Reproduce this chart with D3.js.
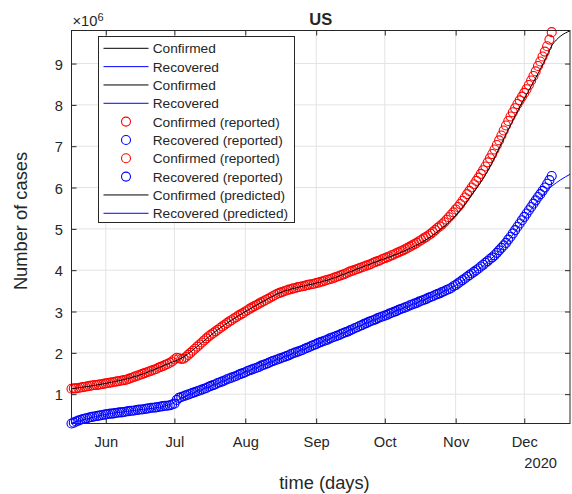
<!DOCTYPE html>
<html>
<head>
<meta charset="utf-8">
<script src="https://cdn.jsdelivr.net/npm/d3@7"></script>
<style>
  body { margin: 0; background: #fff; }
  svg { display: block; }
  text { font-family: "Liberation Sans", Arial, Helvetica, sans-serif; fill: #262626; }
</style>
</head>
<body>
<svg id="chart" width="572" height="494"></svg>
<script>
// ---- data (values in millions of cases) ----
const startDate = "2020-05-17";          // first reported day
const endDate = "2020-12-21";            // end of prediction window

// daily reported series, one value per day from startDate
const confirmedReported = [
  1.13,1.14,1.14,1.15,1.16,1.17,1.18,1.19,1.20,1.21,
  1.22,1.22,1.23,1.24,1.25,1.26,1.27,1.28,1.29,1.30,
  1.31,1.32,1.33,1.34,1.35,1.37,1.39,1.41,1.43,1.45,
  1.47,1.49,1.51,1.53,1.55,1.57,1.59,1.61,1.64,1.66,
  1.68,1.71,1.73,1.76,1.79,1.84,1.88,1.87,1.85,1.86,
  1.90,1.95,2.00,2.05,2.10,2.15,2.20,2.25,2.30,2.35,
  2.40,2.44,2.48,2.52,2.56,2.60,2.64,2.68,2.72,2.76,
  2.79,2.83,2.86,2.90,2.93,2.96,3.00,3.03,3.07,3.10,
  3.13,3.16,3.19,3.22,3.25,3.28,3.31,3.34,3.37,3.40,
  3.43,3.45,3.47,3.49,3.51,3.53,3.54,3.56,3.57,3.59,
  3.60,3.61,3.62,3.64,3.65,3.66,3.67,3.69,3.70,3.72,
  3.73,3.75,3.77,3.78,3.80,3.82,3.84,3.86,3.88,3.90,
  3.92,3.95,3.97,3.99,4.01,4.03,4.05,4.07,4.09,4.11,
  4.13,4.15,4.18,4.20,4.22,4.24,4.27,4.29,4.31,4.33,
  4.36,4.38,4.41,4.43,4.46,4.48,4.51,4.54,4.57,4.60,
  4.63,4.66,4.70,4.73,4.77,4.80,4.84,4.88,4.92,4.97,
  5.02,5.06,5.11,5.16,5.22,5.28,5.34,5.40,5.47,5.53,
  5.60,5.68,5.76,5.84,5.92,6.00,6.08,6.16,6.24,6.33,
  6.42,6.51,6.61,6.71,6.81,6.92,7.03,7.14,7.26,7.38,
  7.50,7.61,7.72,7.82,7.92,8.02,8.11,8.20,8.29,8.38,
  8.48,8.59,8.70,8.81,8.94,9.05,9.17,9.29,9.42,9.58,
  9.76
];

const recoveredReported = [
  0.29,0.31,0.34,0.36,0.38,0.40,0.41,0.42,0.44,0.45,
  0.46,0.47,0.48,0.49,0.50,0.51,0.52,0.53,0.53,0.54,
  0.55,0.56,0.56,0.57,0.58,0.59,0.60,0.60,0.61,0.62,
  0.63,0.63,0.64,0.65,0.66,0.67,0.67,0.68,0.69,0.70,
  0.71,0.72,0.72,0.73,0.75,0.77,0.86,0.91,0.93,0.95,
  0.97,0.99,1.01,1.03,1.05,1.07,1.09,1.11,1.13,1.15,
  1.18,1.20,1.22,1.24,1.27,1.29,1.31,1.33,1.36,1.38,
  1.40,1.42,1.44,1.47,1.49,1.51,1.53,1.56,1.58,1.60,
  1.62,1.64,1.66,1.69,1.71,1.73,1.75,1.78,1.80,1.82,
  1.84,1.86,1.88,1.90,1.92,1.94,1.97,1.99,2.01,2.03,
  2.05,2.07,2.10,2.12,2.14,2.17,2.19,2.21,2.24,2.26,
  2.28,2.30,2.32,2.35,2.37,2.39,2.41,2.43,2.46,2.48,
  2.50,2.52,2.55,2.57,2.60,2.62,2.65,2.67,2.70,2.72,
  2.75,2.77,2.79,2.81,2.84,2.86,2.88,2.90,2.92,2.95,
  2.97,2.99,3.01,3.04,3.06,3.08,3.10,3.12,3.15,3.17,
  3.19,3.21,3.24,3.26,3.28,3.30,3.33,3.35,3.37,3.40,
  3.42,3.44,3.47,3.49,3.52,3.54,3.57,3.61,3.64,3.68,
  3.72,3.76,3.80,3.84,3.88,3.92,3.96,4.00,4.04,4.09,
  4.13,4.18,4.22,4.27,4.31,4.36,4.42,4.48,4.54,4.60,
  4.66,4.74,4.81,4.89,4.97,5.05,5.13,5.21,5.29,5.37,
  5.45,5.53,5.61,5.69,5.77,5.84,5.92,6.00,6.09,6.18,
  6.28
];

// model curves: day offset from startDate and value
const confirmedFitDays = [0,14,28,42,49,56,63,70,77,84,91,98,105,112,119,126,133,140,147,154,161,168,175,182,189,196,203,207,210,212,214,216,218];
const confirmedFit     = [1.13,1.25,1.43,1.73,1.90,2.20,2.52,2.79,3.03,3.25,3.45,3.57,3.66,3.76,3.90,4.05,4.20,4.34,4.50,4.70,4.97,5.32,5.82,6.40,7.18,7.95,8.65,9.08,9.43,9.57,9.67,9.74,9.79];
const recoveredFitDays = [0,14,28,42,49,56,63,70,84,98,112,126,140,154,161,168,175,182,189,196,203,207,210,214,218];
const recoveredFit     = [0.30,0.50,0.61,0.73,0.93,1.09,1.24,1.40,1.71,2.01,2.32,2.65,2.97,3.28,3.44,3.63,3.90,4.20,4.58,5.08,5.62,5.88,6.03,6.19,6.32];

const monthTicks  = ["2020-06-01","2020-07-01","2020-08-01","2020-09-01","2020-10-01","2020-11-01","2020-12-01"];
const monthLabels = ["Jun","Jul","Aug","Sep","Oct","Nov","Dec"];
const yTicks = [1,2,3,4,5,6,7,8,9];
const yLimits = [0.29, 9.80];

const legendLabels = ["Confirmed","Recovered","Confirmed","Recovered",
  "Confirmed (reported)","Recovered (reported)","Confirmed (reported)","Recovered (reported)",
  "Confirmed (predicted)","Recovered (predicted)"];
const legendKinds = ["line","line","line","line","circle","circle","circle","circle","line","line"];
const legendColors = ["#000000","#0000ff","#000000","#0000ff","#ff0000","#0000ff","#ff0000","#0000ff","#000000","#0000ff"];

// ---- layout ----
const plot = { left: 71.5, right: 570, top: 30.5, bottom: 423.5 };
const axisColor = "#262626";
const gridColor = "#e3e3e3";
const tickFont = 14.7;
const markerR = 4.5;
const markerW = 1.1;

const parse = d3.utcParse("%Y-%m-%d");
const t0 = parse(startDate);
const dayAt = i => d3.utcDay.offset(t0, i);

const x = d3.scaleUtc().domain([t0, parse(endDate)]).range([plot.left, plot.right]);
const y = d3.scaleLinear().domain(yLimits).range([plot.bottom, plot.top]);

const svg = d3.select("#chart");

// grid
const grid = svg.append("g");
grid.selectAll("line.gx").data(monthTicks).join("line")
  .attr("x1", d => x(parse(d))).attr("x2", d => x(parse(d)))
  .attr("y1", plot.top).attr("y2", plot.bottom)
  .attr("stroke", gridColor).attr("stroke-width", 1);
grid.selectAll("line.gy").data(yTicks).join("line")
  .attr("x1", plot.left).attr("x2", plot.right)
  .attr("y1", d => y(d)).attr("y2", d => y(d))
  .attr("stroke", gridColor).attr("stroke-width", 1);

// axes (ticks point inward, labels on bottom/left only)
const fmtMonth = d => monthLabels[monthTicks.indexOf(d3.utcFormat("%Y-%m-%d")(d))];
const xTickDates = monthTicks.map(parse);

const styleAxis = g => {
  g.select(".domain").remove();
  g.selectAll(".tick line").attr("stroke", axisColor);
  g.selectAll(".tick text").attr("fill", axisColor)
    .style("font-size", tickFont + "px")
    .style("font-family", '"Liberation Sans", Arial, sans-serif');
};

svg.append("g").attr("transform", `translate(0,${plot.bottom})`)
  .call(d3.axisBottom(x).tickValues(xTickDates).tickFormat(fmtMonth).tickSizeInner(-5).tickSizeOuter(0).tickPadding(12.8))
  .call(styleAxis);
svg.append("g").attr("transform", `translate(0,${plot.top})`)
  .call(d3.axisTop(x).tickValues(xTickDates).tickFormat("").tickSizeInner(-5).tickSizeOuter(0))
  .call(styleAxis);
svg.append("g").attr("transform", `translate(${plot.left},0)`)
  .call(d3.axisLeft(y).tickValues(yTicks).tickFormat(d3.format("d")).tickSizeInner(-5).tickSizeOuter(0).tickPadding(8.5))
  .call(styleAxis)
  .call(g => g.selectAll(".tick text").attr("dy", "0.38em"));
svg.append("g").attr("transform", `translate(${plot.right},0)`)
  .call(d3.axisRight(y).tickValues(yTicks).tickFormat("").tickSizeInner(-5).tickSizeOuter(0))
  .call(styleAxis);

// reported data (markers are not clipped)
const markers = svg.append("g").attr("fill", "none").attr("stroke-width", markerW);
markers.append("g").attr("stroke", "#ff0000")
  .selectAll("circle").data(confirmedReported).join("circle")
  .attr("cx", (d, i) => x(dayAt(i))).attr("cy", d => y(d)).attr("r", markerR);
markers.append("g").attr("stroke", "#0000ff")
  .selectAll("circle").data(recoveredReported).join("circle")
  .attr("cx", (d, i) => x(dayAt(i))).attr("cy", d => y(d)).attr("r", markerR);

// model curves, clipped to the axes box
svg.append("clipPath").attr("id", "plotClip").append("rect")
  .attr("x", plot.left).attr("y", plot.top)
  .attr("width", plot.right - plot.left).attr("height", plot.bottom - plot.top);
const curve = d3.line().curve(d3.curveMonotoneX);
const curves = svg.append("g").attr("clip-path", "url(#plotClip)").attr("fill", "none").attr("stroke-width", 1);
curves.append("path").attr("stroke", "#000000")
  .attr("d", curve(confirmedFitDays.map((d, i) => [x(dayAt(d)), y(confirmedFit[i])])));
curves.append("path").attr("stroke", "#0000ff")
  .attr("d", curve(recoveredFitDays.map((d, i) => [x(dayAt(d)), y(recoveredFit[i])])));

// box
svg.append("rect").attr("x", plot.left).attr("y", plot.top)
  .attr("width", plot.right - plot.left).attr("height", plot.bottom - plot.top)
  .attr("fill", "none").attr("stroke", axisColor).attr("stroke-width", 1);

// exponent, year, title and axis labels
const expo = svg.append("text").attr("x", 72.5).attr("y", 26).style("font-size", tickFont + "px");
expo.append("tspan").text("\u00d710");
expo.append("tspan").attr("dy", -5).style("font-size", "11px").text("6");

svg.append("text").attr("x", 557).attr("y", 468).attr("text-anchor", "end")
  .style("font-size", tickFont + "px").text("2020");

svg.append("text").attr("x", (plot.left + plot.right) / 2).attr("y", 25).attr("text-anchor", "middle")
  .style("font-size", "16.5px").style("font-weight", "bold").attr("fill", "#000").text("US");

svg.append("text").attr("x", 324.5).attr("y", 489).attr("text-anchor", "middle")
  .style("font-size", "18.3px").text("time (days)");

svg.append("text").attr("transform", "translate(27,221) rotate(-90)").attr("text-anchor", "middle")
  .style("font-size", "18.3px").text("Number of cases");

// legend
const lg = svg.append("g");
lg.append("rect").attr("x", 98.5).attr("y", 36.5).attr("width", 196).attr("height", 186)
  .attr("fill", "#fff").attr("stroke", axisColor).attr("stroke-width", 1);
const rowY = i => 48.3 + i * 18.33;
const rows = lg.selectAll("g.row").data(legendLabels).join("g").attr("class", "row");
rows.each(function(label, i) {
  const g = d3.select(this);
  if (legendKinds[i] === "line") {
    g.append("line").attr("x1", 103.5).attr("x2", 148.5)
      .attr("y1", rowY(i)).attr("y2", rowY(i))
      .attr("stroke", legendColors[i]).attr("stroke-width", 1);
  } else {
    g.append("circle").attr("cx", 126).attr("cy", rowY(i)).attr("r", markerR)
      .attr("fill", "none").attr("stroke", legendColors[i]).attr("stroke-width", markerW);
  }
  g.append("text").attr("x", 152.7).attr("y", rowY(i) + 5)
    .style("font-size", "13.7px").attr("fill", "#000").text(label);
});
</script>
</body>
</html>
